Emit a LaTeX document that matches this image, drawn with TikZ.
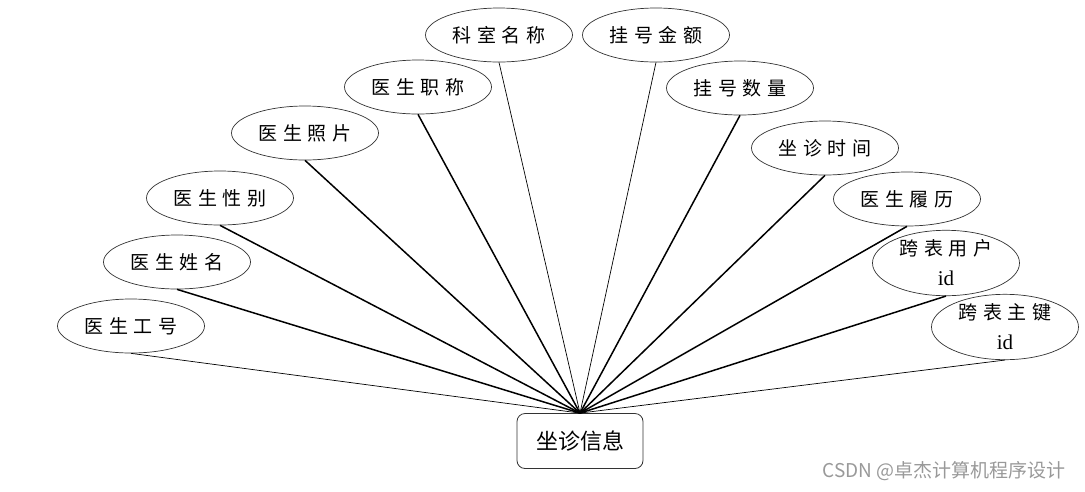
\documentclass[tikz,border=0pt]{standalone}
\usepackage{fontspec}
\setmainfont{Liberation Serif}
\newfontfamily\cjk{Noto Sans CJK SC}
\newfontfamily\cjksp[LetterSpace=30]{Noto Sans CJK SC}
\usepackage{xcolor}
\usepackage{tikz}
\usetikzlibrary{shapes.geometric,positioning}
\definecolor{edgegray}{HTML}{333333}
\definecolor{markgray}{HTML}{999999}

\begin{document}
\begin{tikzpicture}[x=1pt, y=-1pt,
    attr/.style={ellipse, draw=edgegray, line width=0.7pt, fill=white, minimum width=147pt, minimum height=54pt, inner sep=0pt, font=\cjksp\fontsize{19}{30}\selectfont, align=center},
    entity/.style={rectangle, rounded corners=8pt, draw=edgegray, line width=0.8pt, fill=white, minimum width=126pt, minimum height=55pt, font=\cjk\fontsize{22}{26}\selectfont},
    thinlink/.style={draw=black, line width=0.7pt},
    thicklink/.style={draw=black, line width=1.5pt}
]
    \useasboundingbox (0,0) rectangle (1085,491);

    % entity
    \node[entity] (info) at (580,441) {坐诊信息};

    % attributes, left side
    \node[attr] (gh) at (131,326) {医生工号};
    \node[attr] (xm) at (177,262) {医生姓名};
    \node[attr] (xb) at (220,198) {医生性别};
    \node[attr] (zp) at (305,133) {医生照片};
    \node[attr] (zc) at (418,87) {医生职称};
    \node[attr] (ks) at (499,35) {科室名称};

    % attributes, right side
    \node[attr] (je) at (656,35) {挂号金额};
    \node[attr] (sl) at (740,88) {挂号数量};
    \node[attr] (sj) at (825,148) {坐诊时间};
    \node[attr] (ll) at (907,199) {医生履历};
    \node[attr] (yh) at (946,263) {跨表用户\\{\rmfamily\fontsize{21}{30}\selectfont id}};
    \node[attr] (zj) at (1005,327) {跨表主键\\{\rmfamily\fontsize{21}{30}\selectfont id}};

    % links
    \draw[thinlink] (gh.south) -- (info.north);
    \draw[thicklink] (xm.south) -- (info.north);
    \draw[thicklink] (xb.south) -- (info.north);
    \draw[thicklink] (zp.south) -- (info.north);
    \draw[thicklink] (zc.south) -- (info.north);
    \draw[thinlink] (ks.south) -- (info.north);
    \draw[thinlink] (je.south) -- (info.north);
    \draw[thicklink] (sl.south) -- (info.north);
    \draw[thicklink] (sj.south) -- (info.north);
    \draw[thicklink] (ll.south) -- (info.north);
    \draw[thicklink] (yh.south) -- (info.north);
    \draw[thinlink] (zj.south) -- (info.north);

    % watermark
    \node[font=\cjk\fontsize{19}{21}\selectfont, text=markgray] (mark) at (944,471) {CSDN @卓杰计算机程序设计};
\end{tikzpicture}
\end{document}
